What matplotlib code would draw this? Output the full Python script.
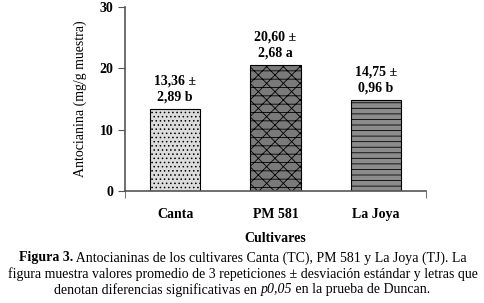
import matplotlib
matplotlib.use('Agg')
import matplotlib.pyplot as plt

# Data
cultivares = ['Canta', 'PM 581', 'La Joya']
medias = [13.36, 20.60, 14.75]
medias_txt = ['13,36', '20,60', '14,75']
desvios = ['2,89', '2,68', '0,96']
letras = ['b', 'a', 'b']

plt.rcParams['font.family'] = ['Liberation Serif', 'DejaVu Serif']
plt.rcParams['hatch.linewidth'] = 0.6

fig = plt.figure(figsize=(4.85, 3.03), dpi=100)
ax = fig.add_axes([0.258, 0.37, 0.62, 0.607])

faces = ['#dcdcdc', '#7a7a7a', '#8c8c8c']
hatches = ['....', 'xx--', '---']
hcolors = ['#777777', 'white', 'white']
for i, v in enumerate(medias):
    plt.rcParams['hatch.color'] = hcolors[i]
    ax.bar(i, v, width=0.5, color=faces[i], hatch=hatches[i],
           edgecolor='black', linewidth=0.8)

for i, v in enumerate(medias):
    ax.text(i, v + 0.9, medias_txt[i] + ' ±\n' + desvios[i] + ' ' + letras[i],
            ha='center', va='bottom', fontsize=10, fontweight='bold',
            linespacing=1.3)

ax.set_xlim(-0.5, 2.5)
ax.set_ylim(0, 30)
ax.set_yticks([0, 10, 20, 30])
ax.set_xticks(range(3))
ax.set_xticklabels(cultivares, fontsize=10, fontweight='bold')
ax.set_xticks([-0.5, 2.5], minor=True)
ax.tick_params(axis='x', which='major', length=0, pad=12)
ax.tick_params(axis='x', which='minor', length=5, direction='out', color='#555555')
ax.tick_params(axis='y', length=5, direction='out', labelsize=10, color='#555555')
for lab in ax.get_yticklabels():
    lab.set_fontweight('bold')

for s in ['top', 'right']:
    ax.spines[s].set_visible(False)
for s in ['left', 'bottom']:
    ax.spines[s].set_color('#555555')
    ax.spines[s].set_linewidth(1.2)

ax.set_ylabel('Antocianina (mg/g muestra)', fontsize=10, labelpad=9)
ax.set_xlabel('Cultivares', fontsize=10, fontweight='bold', labelpad=8)


# Caption: pieces with mixed styles, centred as a line
def caption_line(y, pieces):
    fig.canvas.draw()
    r = fig.canvas.get_renderer()
    texts = [fig.text(0, y, s, ha='left', va='center', fontsize=10, **kw) for s, kw in pieces]
    widths = [t.get_window_extent(r).width for t in texts]
    x = (fig.bbox.width - sum(widths)) / 2
    for t, w in zip(texts, widths):
        t.set_x(x / fig.bbox.width)
        x += w


caption_line(1 - 258 / 303, [
    ('Figura 3.', {'fontweight': 'bold'}),
    (' Antocianinas de los cultivares Canta (TC), PM 581 y La Joya (TJ). La', {}),
])
caption_line(1 - 274 / 303, [
    ('figura muestra valores promedio de 3 repeticiones ± desviación estándar y letras que', {}),
])
caption_line(1 - 290 / 303, [
    ('denotan diferencias significativas en ', {}),
    ('p0,05', {'fontstyle': 'italic'}),
    (' en la prueba de Duncan.', {}),
])

fig.savefig('out.png', dpi=100)
